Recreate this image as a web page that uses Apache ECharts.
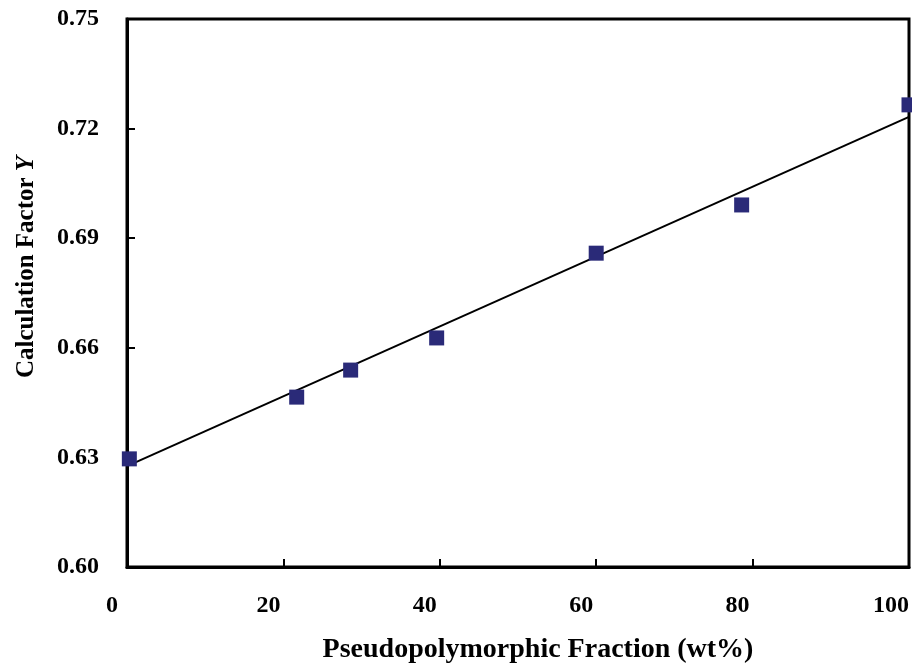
<!DOCTYPE html>
<html>
<head>
<meta charset="utf-8">
<script src="https://cdn.jsdelivr.net/npm/echarts@6/dist/echarts.min.js"></script>
<style>
  html, body { margin: 0; padding: 0; background: #fff; }
  #chart { width: 912px; height: 664px; }
</style>
</head>
<body>
<div id="chart"></div>
<script>
// measured points
const fraction = [0.3, 21.7, 28.6, 39.6, 60.0, 78.6, 100];
const factorY = [0.6296, 0.6465, 0.6539, 0.6627, 0.6859, 0.6991, 0.7265];
// fitted line ends
const fitX = [0, 100];
const fitY = [0.6276, 0.7232];

const xTicks = [0, 20, 40, 60, 80, 100];
const yTicks = [0.60, 0.63, 0.66, 0.69, 0.72, 0.75];

const font = '"Liberation Serif", "Times New Roman", serif';
const labelFont = { fontFamily: font, fontWeight: "bold", fontSize: 24, color: "#000" };

const chart = echarts.init(document.getElementById("chart"));

const option = {
    animation: false,
    backgroundColor: "#fff",
    grid: {
        left: 127, right: 3, top: 19, bottom: 97,
        outerBoundsMode: "none",
        containLabel: false,
        show: true, borderColor: "#000", borderWidth: 3
    },
    xAxis: {
        type: "value",
        min: 0, max: 100, interval: 20,
        name: "Pseudopolymorphic Fraction (wt%)",
        nameLocation: "middle",
        nameGap: 69,
        nameTextStyle: {
            fontFamily: font, fontWeight: "bold", fontSize: 28, color: "#000",
            padding: [0, 0, 0, 40]
        },
        axisLine: { show: true, lineStyle: { color: "#000", width: 3 } },
        axisTick: { show: true, inside: true, length: 8, lineStyle: { color: "#000", width: 2 } },
        axisLabel: {
            ...labelFont,
            margin: 27,
            alignMaxLabel: "right",
            // labels sit a bit left of their ticks in the original
            rich: {
                n: { ...labelFont, padding: [0, 30, 0, 0] },
                m: { ...labelFont, padding: [0, 0, 0, 0] }
            },
            formatter: v => {
                if (!xTicks.includes(v)) return "";
                return v === 100 ? "{m|" + v + "}" : "{n|" + v + "}";
            }
        },
        splitLine: { show: false }
    },
    yAxis: {
        type: "value",
        min: 0.60, max: 0.75, interval: 0.03,
        name: "Calculation Factor {i|Y}",
        nameLocation: "middle",
        nameGap: 88,
        nameTextStyle: {
            fontFamily: font, fontWeight: "bold", fontSize: 25, color: "#000",
            padding: [0, 0, 0, 52],
            rich: { i: { fontFamily: font, fontWeight: "bold", fontStyle: "italic", fontSize: 25, color: "#000" } }
        },
        axisLine: { show: true, lineStyle: { color: "#000", width: 3 } },
        axisTick: { show: true, inside: true, length: 8, lineStyle: { color: "#000", width: 2 } },
        axisLabel: {
            ...labelFont,
            margin: 28,
            formatter: v => {
                const t = yTicks.find(k => Math.abs(k - v) < 1e-6);
                return t === undefined ? "" : t.toFixed(2);
            }
        },
        splitLine: { show: false }
    },
    series: [
        {
            type: "line",
            data: fitX.map((x, i) => [x, fitY[i]]),
            showSymbol: false,
            symbol: "none",
            lineStyle: { color: "#000", width: 2 },
            z: 2
        },
        {
            type: "scatter",
            data: fraction.map((x, i) => [x, factorY[i]]),
            symbol: "rect",
            symbolSize: 15,
            itemStyle: { color: "#2a2a78", opacity: 1 },
            clip: false,
            z: 3
        }
    ]
};

chart.setOption(option);
</script>
</body>
</html>
